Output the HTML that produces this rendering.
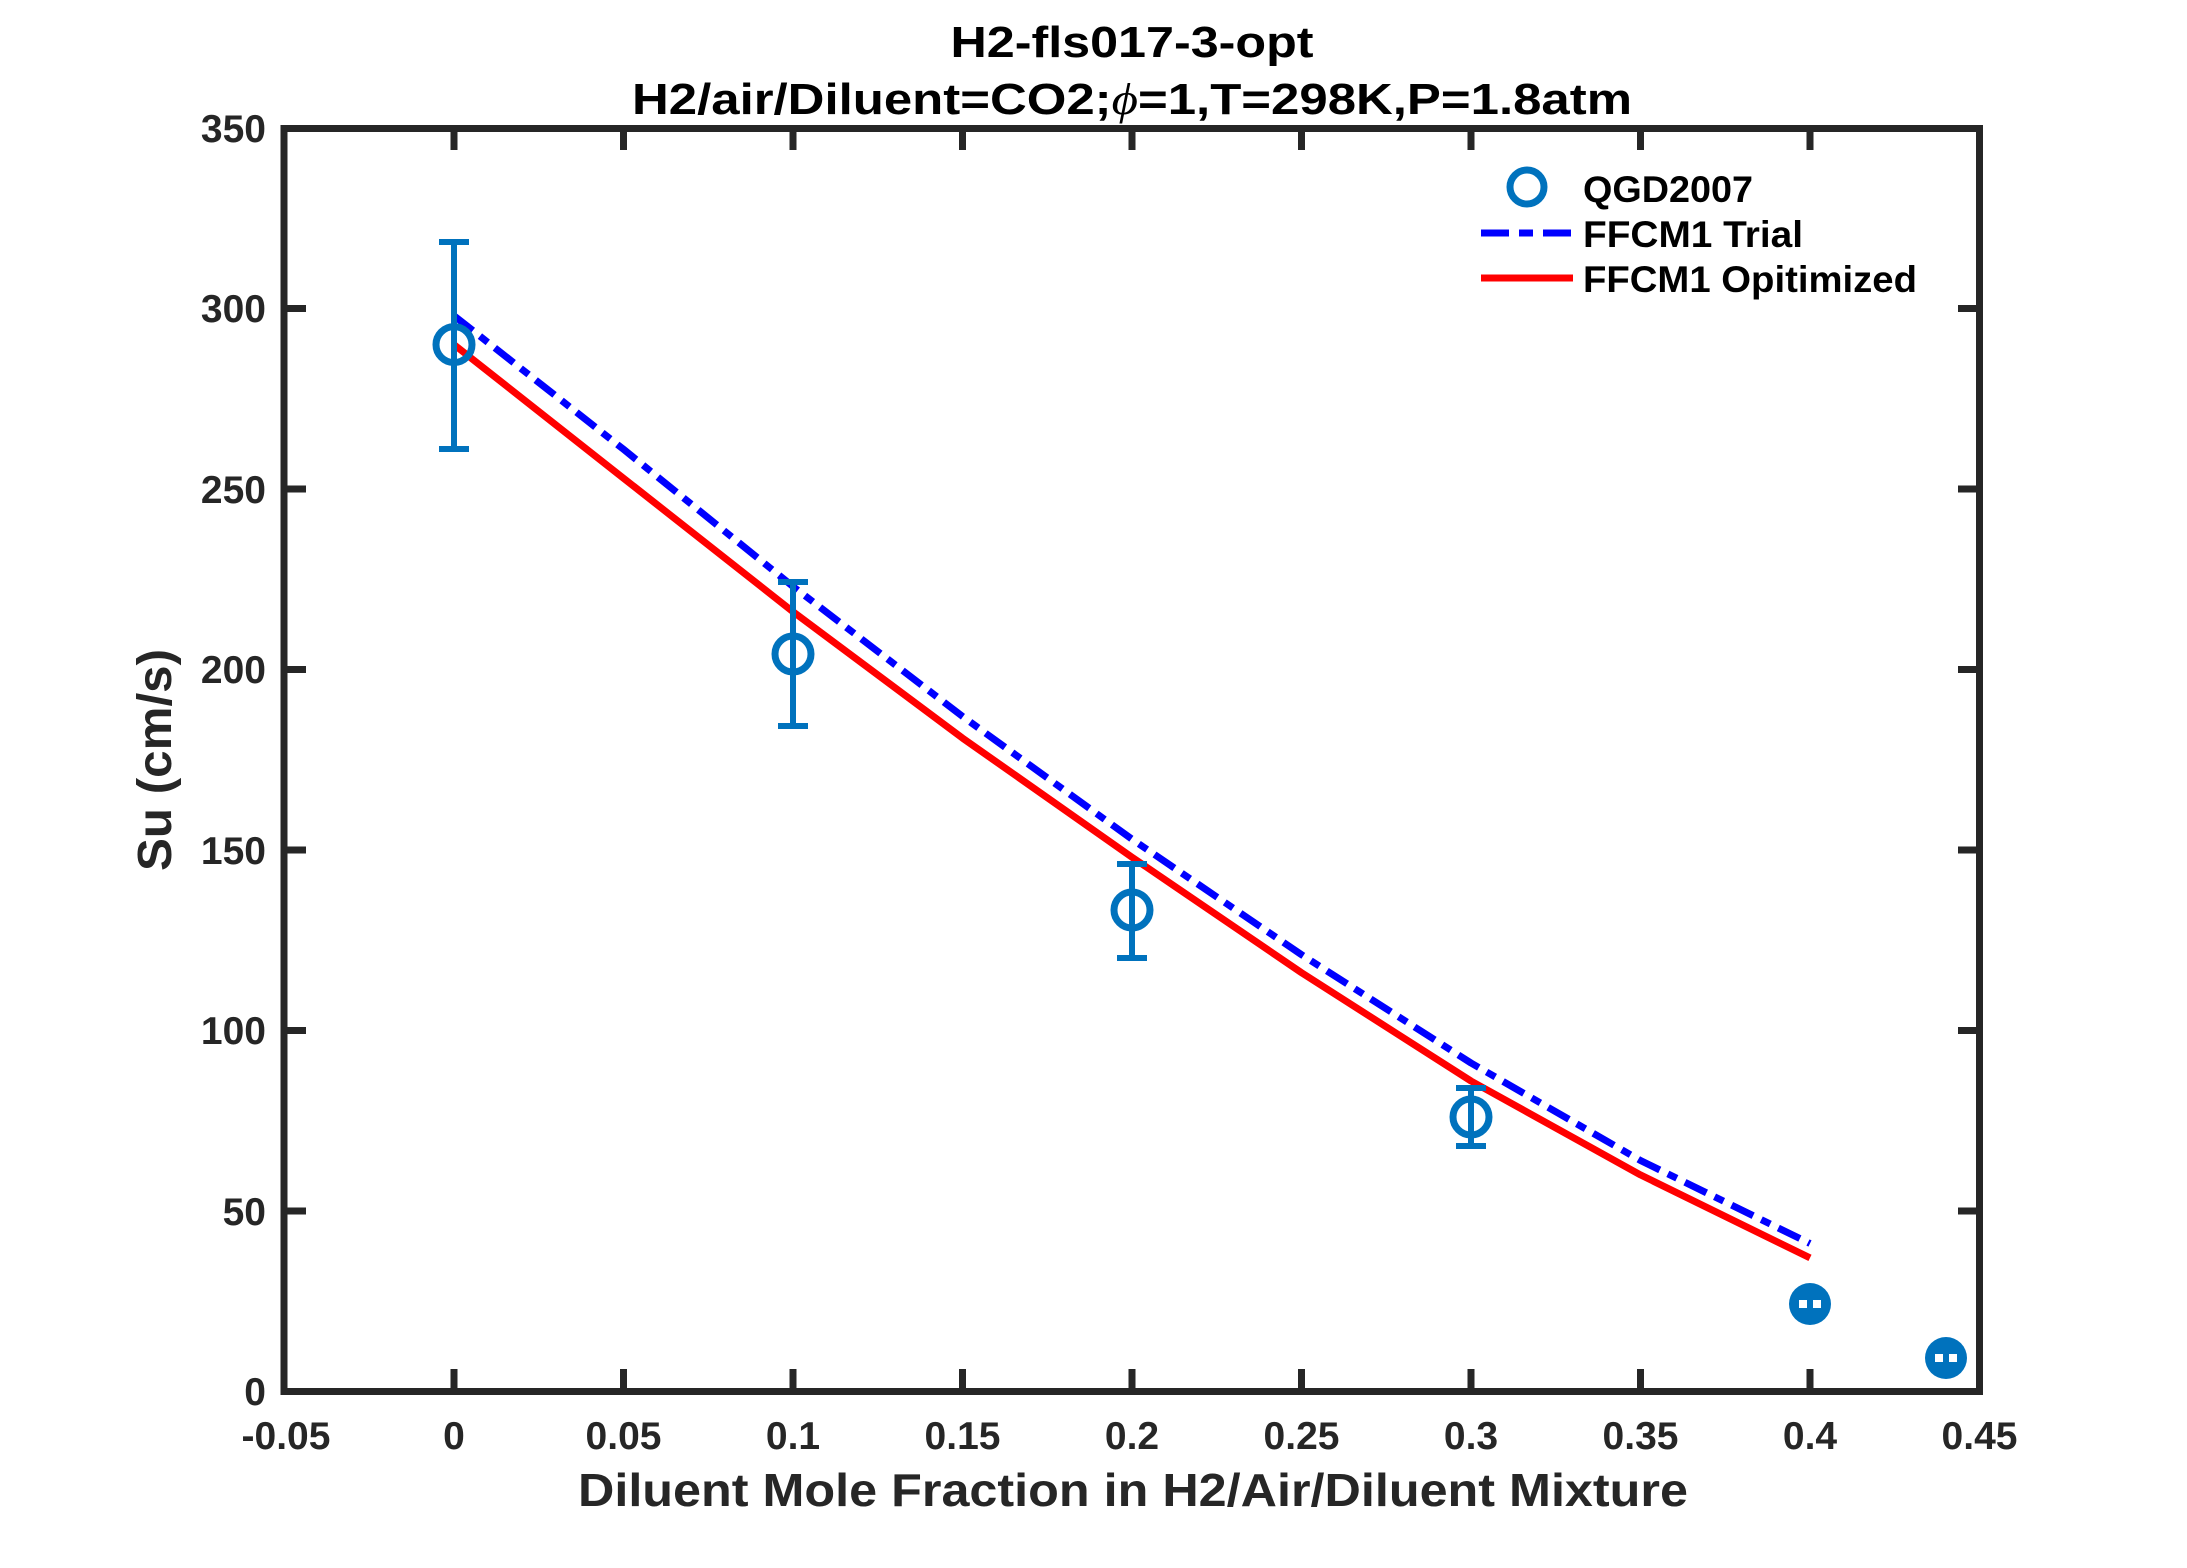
<!DOCTYPE html>
<html><head><meta charset="utf-8"><style>html,body{margin:0;padding:0;background:#fff}</style></head>
<body>
<svg width="2187" height="1563" viewBox="0 0 2187 1563" xmlns="http://www.w3.org/2000/svg" font-family="Liberation Sans, Arial, sans-serif" font-weight="bold">
<rect width="2187" height="1563" fill="#fff"/>
<!-- title -->
<text x="1132" y="57" font-size="44" text-anchor="middle" fill="#000" textLength="363" lengthAdjust="spacingAndGlyphs">H2-fls017-3-opt</text>
<text x="1132" y="114" font-size="44" text-anchor="middle" fill="#000" textLength="1000" lengthAdjust="spacingAndGlyphs">H2/air/Diluent=CO2;<tspan font-family="Liberation Serif, serif" font-style="italic" font-weight="normal">ϕ</tspan>=1,T=298K,P=1.8atm</text>
<!-- lines -->
<g fill="none" stroke-width="7" stroke-linejoin="round">
<polyline stroke="#ff0000" points="454,344.6 623.5,478.2 793,611.7 962.5,738.1 1132,857.2 1301.5,972.7 1471,1081 1640.5,1174.9 1810,1257.9"/>
<polyline stroke="#0000ff" stroke-dasharray="24 9 10 9" points="454,315.7 623.5,449.3 793,586.5 962.5,716.4 1132,839.2 1301.5,954.7 1471,1063 1640.5,1160.5 1810,1243.5"/>
</g>
<!-- error bars & markers -->
<g stroke="#0072bd" stroke-width="6" fill="none">
<path d="M454,242V449M439,242H469M439,449H469"/>
<path d="M793,582V726M778,582H808M778,726H808"/>
<path d="M1132,864V958M1117,864H1147M1117,958H1147"/>
<path d="M1471,1088V1146M1456,1088H1486M1456,1146H1486"/>
<circle cx="454" cy="344.6" r="18" stroke-width="7"/>
<circle cx="793" cy="654" r="18" stroke-width="7"/>
<circle cx="1132" cy="910" r="18" stroke-width="7"/>
<circle cx="1471" cy="1117" r="18" stroke-width="7"/>
</g>
<g fill="#0072bd">
<circle cx="1810" cy="1304" r="21"/>
<circle cx="1946" cy="1358" r="21"/>
</g>
<g fill="#fff">
<rect x="1799" y="1300" width="8" height="8"/><rect x="1813" y="1300" width="8" height="8"/>
<rect x="1935" y="1354" width="8" height="8"/><rect x="1949" y="1354" width="8" height="8"/>
</g>
<!-- axes box -->
<rect x="284" y="128.5" width="1695.5" height="1263" fill="none" stroke="#262626" stroke-width="7"/>
<g stroke="#262626" stroke-width="7">
<path d="M454,1391V1369M623.5,1391V1369M793,1391V1369M962.5,1391V1369M1132,1391V1369M1301.5,1391V1369M1471,1391V1369M1640.5,1391V1369M1810,1391V1369"/>
<path d="M454,128V150M623.5,128V150M793,128V150M962.5,128V150M1132,128V150M1301.5,128V150M1471,128V150M1640.5,128V150M1810,128V150"/>
<path d="M284,308.5H306M284,489H306M284,669.5H306M284,850H306M284,1030.5H306M284,1211H306"/>
<path d="M1980,308.5H1958M1980,489H1958M1980,669.5H1958M1980,850H1958M1980,1030.5H1958M1980,1211H1958"/>
</g>
<!-- tick labels -->
<g font-size="39" fill="#262626" text-anchor="end">
<text x="266" y="142">350</text>
<text x="266" y="322">300</text>
<text x="266" y="503">250</text>
<text x="266" y="683">200</text>
<text x="266" y="864">150</text>
<text x="266" y="1044">100</text>
<text x="266" y="1225">50</text>
<text x="266" y="1405">0</text>
</g>
<g font-size="39" fill="#262626" text-anchor="middle">
<text x="286" y="1449">-0.05</text>
<text x="454" y="1449">0</text>
<text x="623.5" y="1449">0.05</text>
<text x="793" y="1449">0.1</text>
<text x="962.5" y="1449">0.15</text>
<text x="1132" y="1449">0.2</text>
<text x="1301.5" y="1449">0.25</text>
<text x="1471" y="1449">0.3</text>
<text x="1640.5" y="1449">0.35</text>
<text x="1810" y="1449">0.4</text>
<text x="1979.5" y="1449">0.45</text>
</g>
<!-- axis labels -->
<text x="1133" y="1506" font-size="46" fill="#262626" text-anchor="middle" textLength="1110" lengthAdjust="spacingAndGlyphs">Diluent Mole Fraction in H2/Air/Diluent Mixture</text>
<text transform="translate(171,760) rotate(-90)" font-size="48" fill="#262626" text-anchor="middle" textLength="222" lengthAdjust="spacingAndGlyphs">Su (cm/s)</text>
<!-- legend -->
<circle cx="1527" cy="187" r="17" fill="none" stroke="#0072bd" stroke-width="7"/>
<line x1="1481" y1="233" x2="1573" y2="233" stroke="#0000ff" stroke-width="7" stroke-dasharray="28 10 14 10"/>
<line x1="1481" y1="278" x2="1573" y2="278" stroke="#ff0000" stroke-width="7"/>
<g font-size="37" fill="#000">
<text x="1583" y="202" textLength="170" lengthAdjust="spacingAndGlyphs">QGD2007</text>
<text x="1583" y="247" textLength="220" lengthAdjust="spacingAndGlyphs">FFCM1 Trial</text>
<text x="1583" y="292" textLength="334" lengthAdjust="spacingAndGlyphs">FFCM1 Opitimized</text>
</g>
</svg>
</body></html>
